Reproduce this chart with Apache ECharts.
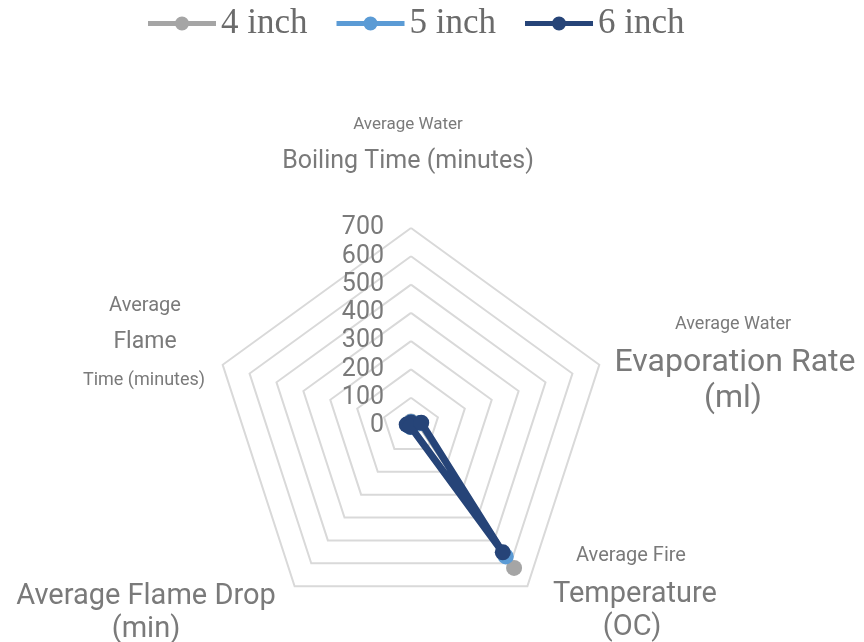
<!DOCTYPE html>
<html>
<head>
<meta charset="utf-8">
<script src="https://cdn.jsdelivr.net/npm/echarts@6/dist/echarts.min.js"></script>
<style>
  html, body { margin: 0; padding: 0; background: #ffffff; }
  #chart { width: 864px; height: 642px; }
</style>
</head>
<body>
<div id="chart"></div>
<script>
// Measures, listed clockwise from the top of the web
const categories = [
  'Average Water Boiling Time (minutes)',
  'Average Water Evaporation Rate (ml)',
  'Average Fire Temperature (OC)',
  'Average Flame Drop (min)',
  'Average Flame Time (minutes)'
];
const seriesNames = ['4 inch', '5 inch', '6 inch'];
const values4inch = [16, 30, 620, 4, 12];
const values5inch = [14, 34, 570, 4, 14];
const values6inch = [12, 38, 552, 3, 16];
const tickLabels = ['0', '100', '200', '300', '400', '500', '600', '700'];
const axisMax = 700;

const colors = ['#a5a5a5', '#5b9bd5', '#264478'];
const seriesValues = [values4inch, values5inch, values6inch];

// ECharts lays radar indicators out counter-clockwise, so walk the
// clockwise list backwards after the first entry.
const order = [0, 4, 3, 2, 1];
const indicator = order.map(function (i, k) {
  const ind = { name: categories[i], max: axisMax, min: 0 };
  if (k === 0) {
    ind.axisLabel = {
      show: true,
      margin: 27,
      color: '#7a7a7a',
      fontSize: 25,
      fontFamily: 'Roboto',
      formatter: function (v) { return tickLabels[Math.round(v / 100)]; }
    };
  }
  return ind;
});

const series = seriesNames.map(function (name, s) {
  return {
    type: 'radar',
    name: name,
    z: 2 + s,
    symbol: 'circle',
    symbolSize: 16,
    lineStyle: { width: s === 2 ? 7 : 5, color: colors[s] },
    itemStyle: { color: colors[s], borderWidth: 0 },
    data: [{ name: name, value: order.map(function (i) { return seriesValues[s][i]; }) }]
  };
});

const labelColor = '#7a7a7a';
function t(x, y, text, size) {
  return {
    type: 'text', x: x, y: y, silent: true,
    style: {
      text: text, fill: labelColor, fontSize: size, fontFamily: 'Roboto',
      align: 'center', verticalAlign: 'middle'
    }
  };
}

const chart = echarts.init(document.getElementById('chart'), null, { renderer: 'canvas' });
chart.setOption({
  animation: false,
  color: colors,
  legend: {
    top: 1,
    left: 143,
    data: seriesNames,
    // legend key: a thick stroke with a round marker in the middle
    icon: 'path://M0,4.5h68v5H0z M27,7a7,7 0 1,1 14,0a7,7 0 1,1 -14,0z',
    itemWidth: 68,
    itemHeight: 14,
    itemGap: 29,
    itemStyle: { borderWidth: 0 },
    textStyle: { fontFamily: 'Liberation Serif', fontSize: 35, color: '#6b6b6b' }
  },
  radar: {
    center: [411, 426],
    radius: 198,
    startAngle: 90,
    splitNumber: 7,
    shape: 'polygon',
    indicator: indicator,
    axisName: { show: false },
    axisLine: { show: false },
    axisTick: { show: false },
    axisLabel: { show: false },
    splitArea: { show: false },
    splitLine: { lineStyle: { color: '#d9d9d9', width: 2 } }
  },
  series: series,
  graphic: [
    t(408, 125, 'Average Water', 17),
    t(408, 162, 'Boiling Time (minutes)', 25),
    t(733, 324, 'Average Water', 18),
    t(735, 363, 'Evaporation Rate', 32),
    t(733, 399, '(ml)', 32),
    t(631, 556, 'Average Fire', 20),
    t(635, 595, 'Temperature', 29),
    t(632, 628, '(OC)', 29),
    t(146, 597, 'Average Flame Drop', 29),
    t(146, 630, '(min)', 29),
    t(145, 306, 'Average', 20),
    t(145, 342, 'Flame', 23),
    t(144, 380, 'Time (minutes)', 18)
  ]
});
</script>
</body>
</html>
